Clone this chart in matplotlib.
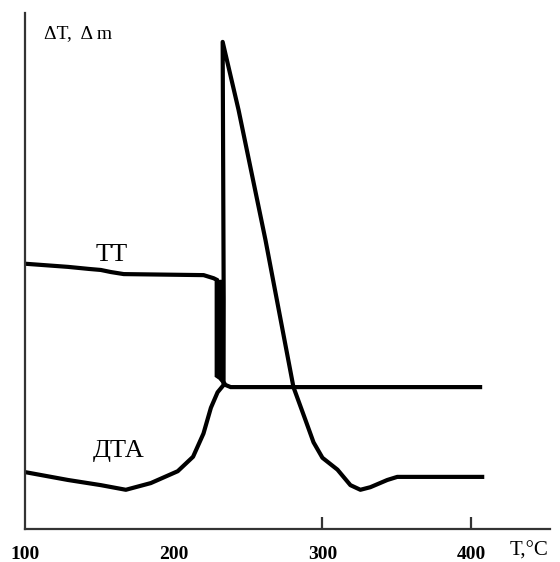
#!/usr/bin/env python
#
# DTA / TG curves vs temperature

import matplotlib
matplotlib.use('Agg')
import matplotlib.pyplot as plt

# temperature, degC
tt_temp = [100.5, 128.9, 143.0, 151.0, 157.7, 166.4, 220.1, 226.8, 228.9, 228.9,
           230.9, 230.9, 232.2, 232.2, 234.9, 238.3, 406.0]
# TG signal, arb. units
tt_val = [51.4, 50.8, 50.4, 50.2, 49.8, 49.4, 49.2, 48.6, 48.3, 29.7,
          29.3, 47.9, 47.9, 28.9, 27.9, 27.5, 27.5]

dta_temp = [100.5, 128.9, 151.0, 167.8, 184.6, 202.7, 213.0, 220.0, 225.0, 229.5,
            233.5, 233.6, 233.2, 232.9, 243.6, 261.7, 280.5, 288.6, 294.0, 300.0,
            310.1, 318.8, 325.5, 332.2, 343.6, 350.3, 407.4]
dta_val = [11.0, 9.5, 8.5, 7.6, 8.9, 11.2, 14.0, 18.5, 23.5, 26.5,
           27.9, 44.4, 73.4, 94.4, 81.2, 56.0, 27.5, 21.1, 16.8, 13.8,
           11.5, 8.5, 7.6, 8.1, 9.5, 10.1, 10.1]

xticks = [100, 200, 300, 400]

plt.rcParams['font.family'] = ['Liberation Serif', 'DejaVu Serif']

fig = plt.figure(figsize=(5.6, 5.62), dpi=100)
ax = fig.add_axes([25 / 560, 33 / 562, 525 / 560, 516 / 562])

ax.plot(tt_temp, tt_val, color='black', lw=3, solid_joinstyle='miter')
ax.plot(dta_temp, dta_val, color='black', lw=3, solid_joinstyle='round')

ax.set_xlim(100, 453)
ax.set_ylim(0, 100)

for s in ['top', 'right']:
    ax.spines[s].set_visible(False)
for s in ['left', 'bottom']:
    ax.spines[s].set_linewidth(1.6)
    ax.spines[s].set_color('#333333')

ax.set_yticks([])
ax.set_xticks(xticks)
ax.set_xticklabels([str(t) for t in xticks], fontsize=14, fontweight='bold')
ax.tick_params(axis='x', direction='in', length=9, width=1.6, color='#333333', pad=12)
for i in (0, 1):
    ax.xaxis.get_major_ticks()[i].tick1line.set_visible(False)

ax.text(158.4, 53.1, 'TT', fontsize=19, ha='center', va='center')
ax.text(163.1, 15.1, 'ДТА', fontsize=19, ha='center', va='center')
ax.text(112.8, 96.0, 'ΔT,  Δ m', fontsize=14, ha='left', va='center')
ax.text(439, -4.3, 'T,°C', fontsize=15, ha='center', va='center', clip_on=False)

fig.savefig('out.png', dpi=100)
